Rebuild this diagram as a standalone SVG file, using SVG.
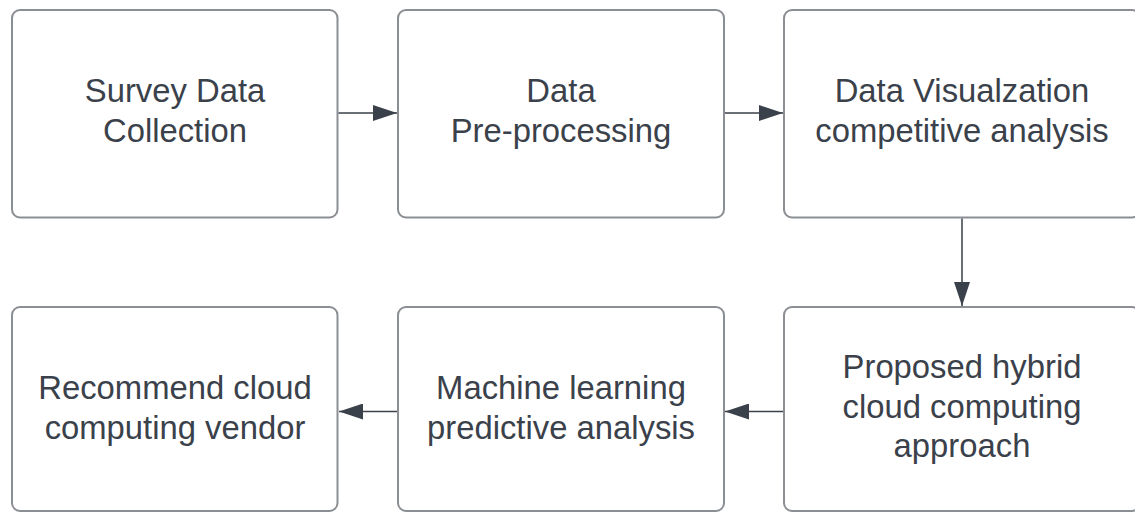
<svg xmlns="http://www.w3.org/2000/svg" width="1135" height="512" viewBox="0 0 1135 512">
  <style>
    .box { fill: #ffffff; stroke: #8b8e93; stroke-width: 2; }
    .label { font-family: "Liberation Sans", Arial, sans-serif; font-size: 32.8px; fill: #3a414a; text-anchor: middle; }
    .edge { stroke: #3a414a; stroke-width: 1.5; fill: none; marker-end: url(#head); }
  </style>
  <defs>
    <marker id="head" viewBox="0 0 24 16" refX="24" refY="8" markerWidth="24" markerHeight="16" markerUnits="userSpaceOnUse" orient="auto">
      <path d="M0,0 L24,8 L0,16 Z" fill="#3a414a"/>
    </marker>
  </defs>
  <rect width="1135" height="512" fill="#ffffff"/>

  <g id="survey-data-collection">
    <rect class="box" x="12" y="10" width="325.5" height="207.5" rx="8"/>
    <text class="label" x="175" y="102">Survey Data</text>
    <text class="label" x="175" y="141.5">Collection</text>
  </g>

  <g id="data-preprocessing">
    <rect class="box" x="398" y="10" width="326" height="207.5" rx="8"/>
    <text class="label" x="561" y="102">Data</text>
    <text class="label" x="561" y="141.5">Pre-processing</text>
  </g>

  <g id="data-visualization">
    <rect class="box" x="784" y="10" width="356" height="207.5" rx="8"/>
    <text class="label" x="962" y="102">Data Visualzation</text>
    <text class="label" x="962" y="141.5">competitive analysis</text>
  </g>

  <g id="hybrid-approach">
    <rect class="box" x="784" y="307" width="356" height="204" rx="8"/>
    <text class="label" x="962" y="378">Proposed hybrid</text>
    <text class="label" x="962" y="417.5">cloud computing</text>
    <text class="label" x="962" y="457">approach</text>
  </g>

  <g id="ml-predictive-analysis">
    <rect class="box" x="398" y="307" width="326" height="204" rx="8"/>
    <text class="label" x="561" y="399">Machine learning</text>
    <text class="label" x="561" y="438.5">predictive analysis</text>
  </g>

  <g id="recommend-vendor">
    <rect class="box" x="12" y="307" width="325.5" height="204" rx="8"/>
    <text class="label" x="175" y="399">Recommend cloud</text>
    <text class="label" x="175" y="438.5">computing vendor</text>
  </g>

  <g id="connectors">
    <path class="edge" d="M338.5,113 L397,113"/>
    <path class="edge" d="M725,113 L783,113"/>
    <path class="edge" d="M962,218.5 L962,306"/>
    <path class="edge" d="M783,411.5 L725,411.5"/>
    <path class="edge" d="M397,411.5 L339,411.5"/>
  </g>
</svg>
